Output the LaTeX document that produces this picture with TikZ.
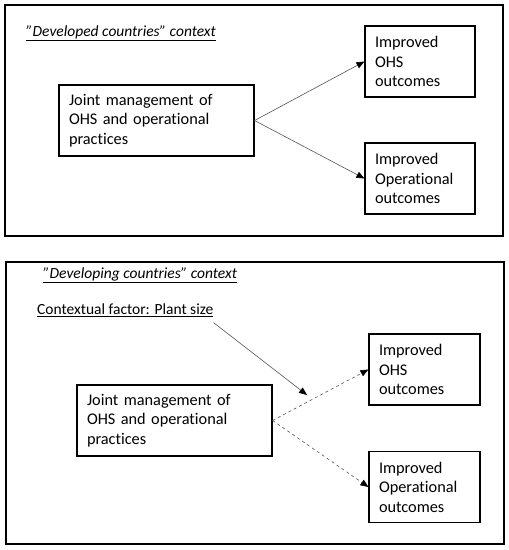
\documentclass[tikz,border=0pt]{standalone}
\usepackage{fontspec}
\setmainfont{Carlito}[Ligatures = NoCommon]
\usepackage{tikz}
\usetikzlibrary{arrows.meta}
\definecolor{linegray}{RGB}{85, 85, 85}

\begin{document}
\begin{tikzpicture}[x = 1pt, y = -1pt,
	box/.style = {draw, line width = 1.1pt, rectangle, inner xsep = 10pt, inner ysep = 4pt, align = left, minimum height = 71pt, font = \fontsize{16.3}{19.6}\selectfont},
	frame/.style = {draw, line width = 1.1pt},
	title/.style = {anchor = west, inner sep = 0pt, font = \fontsize{15.5}{18.5}\selectfont},
	link/.style = {draw = linegray, line width = 0.6pt, -{Triangle[length = 8pt, width = 6.5pt, color = black]}}]
			\useasboundingbox (0,0) rectangle (509,550);
			% developed countries
			\draw[frame] (5,5) rectangle (503,236);
			\node (t1) at (26,33) [title] {\underline{\textit{”Developed countries” context}}};
			\node (jm1) at (156.5,120.5) [box, text width = 175pt] {Joint management of\\OHS and operational\\practices};
			\node (ohs1) at (420,61.5) [box, text width = 90pt] {Improved\\OHS\\outcomes};
			\node (op1) at (420,178.5) [box, text width = 90pt] {Improved\\Operational\\outcomes};
			\draw[link] (jm1.east) -- (ohs1.west);
			\draw[link] (jm1.east) -- (op1.west);
			% developing countries
			\draw[frame] (6,262) rectangle (504,544);
			\node (t2) at (43,275) [title] {\underline{\textit{”Developing countries” context}}};
			\node (fac) at (37,310) [title] {\underline{Contextual factor: Plant size}};
			\node (jm2) at (174.5,420.5) [box, text width = 175pt] {Joint management of\\OHS and operational\\practices};
			\node (ohs2) at (424.5,369.5) [box, text width = 91pt] {Improved\\OHS\\outcomes};
			\node (op2) at (424.5,487) [box, text width = 91pt] {Improved\\Operational\\outcomes};
			\coordinate (mod) at (307,395);
			\draw[link] ([yshift = -6pt]fac.south east) -- (mod);
			\draw[link, dashed] (jm2.east) -- (ohs2.west);
			\draw[link, dashed] (jm2.east) -- (op2.west);
			\end{tikzpicture}
\end{document}
